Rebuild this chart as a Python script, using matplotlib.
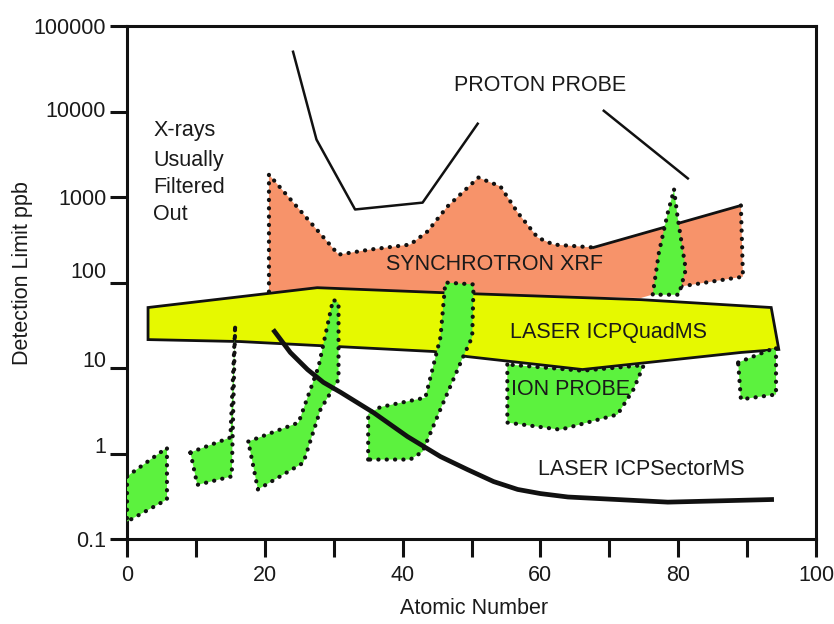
import matplotlib
matplotlib.use("Agg")
import matplotlib.pyplot as plt
from matplotlib.transforms import ScaledTranslation

plt.rcParams['font.family'] = ['Liberation Sans', 'DejaVu Sans']

# ---- data (atomic number, detection limit in ppb) ----
proton_a_x = [24.1, 27.5, 33.1, 42.9, 50.9]
proton_a_y = [50000, 4700, 715, 860, 7200]
proton_b_x = [69.2, 81.4]
proton_b_y = [10200, 1650]

synch_x = [20.6, 20.6, 30.7, 35.3, 41.1, 43.6, 46.5, 51.0, 54.2, 56.7, 59.6,
           61.9, 67.7, 89.1, 89.4, 80.4, 74.6, 50.0, 27.6]
synch_y = [78, 1830, 212, 243, 278, 395, 774, 1690, 1330, 659, 336,
           278, 257, 796, 117, 90, 66, 70, 80]

quad_x = [3.05, 27.6, 45.9, 74.6, 93.5, 94.6, 89.1, 66.1, 49.4, 44.5, 16.4, 3.05]
quad_y = [51, 87, 76, 63, 51, 16.5, 15.2, 9.6, 13.6, 15.6, 20.4, 21.5]

sector_x = [21.2, 23.7, 26.2, 28.5, 31.0, 35.8, 40.7, 45.5, 49.4, 53.2, 56.7,
            60.0, 64.0, 78.5, 93.9]
sector_y = [28.2, 15.2, 9.6, 6.8, 5.2, 3.0, 1.58, 0.92, 0.65, 0.47, 0.38,
            0.34, 0.31, 0.27, 0.29]

ion_a_x = [0.0, 5.8, 5.8, 0.0]
ion_a_y = [0.54, 1.17, 0.29, 0.16]
ion_b_x = [9.2, 15.0, 15.7, 15.2, 10.2]
ion_b_y = [1.03, 1.54, 32, 0.54, 0.43]
ion_c_x = [17.6, 24.9, 27.8, 29.9, 30.7, 30.7, 28.1, 25.6, 19.0]
ion_c_y = [1.38, 2.3, 10.4, 63, 58, 7.3, 3.3, 0.78, 0.38]
ion_d_x = [35.0, 35.0, 36.8, 43.3, 45.5, 46.2, 50.3, 50.1, 48.8, 45.5, 42.9, 41.1]
ion_d_y = [0.85, 2.9, 3.5, 4.5, 23, 100, 95, 23, 13.6, 3.3, 1.05, 0.85]
ion_e_x = [55.2, 55.2, 62.9, 71.2, 73.5, 75.0, 66.1]
ion_e_y = [11.0, 2.3, 1.9, 2.86, 5.6, 10.8, 9.3]
ion_f_x = [79.4, 79.9, 81.1, 80.1, 76.3, 77.2, 78.5]
ion_f_y = [1220, 592, 142, 72, 72, 224, 659]
ion_g_x = [88.7, 94.2, 94.2, 89.1]
ion_g_y = [11.6, 17.4, 4.9, 4.3]

xticks = [0, 20, 40, 60, 80, 100]
xminor = [10, 30, 50, 70, 90]
yticks = [0.1, 1, 10, 100, 1000, 10000, 100000]
ytick_labels = ['0.1', '1', '10', '100', '1000', '10000', '100000']

SALMON = '#f7936a'
YELLOW = '#e6f900'
GREEN = '#5cf23e'
INK = '#111111'
TXT = '#1a1a1a'
FS = 15.5

fig = plt.figure(figsize=(8.34, 6.24), dpi=100)
ax = fig.add_axes([0.1523, 0.1362, 0.8261, 0.8221])
ax.set_yscale('log')
ax.set_xlim(0, 100)
ax.set_ylim(0.1, 100000)

dot = dict(color=INK, lw=3.0, linestyle=(0, (0.05, 1.95)),
           dash_capstyle='round', solid_capstyle='round')

# synchrotron XRF region
ax.fill(synch_x, synch_y, color=SALMON, lw=0, zorder=1)
ax.plot(synch_x[:13], synch_y[:13], zorder=1.5, **dot)
ax.plot(synch_x[12:14], synch_y[12:14], color=INK, lw=2.0, zorder=1.5)
ax.plot(synch_x[13:16] + [76.8], synch_y[13:16] + [80], zorder=1.5, **dot)


def ion_patch(xs, ys, z):
    ax.fill(xs, ys, color=GREEN, lw=0, zorder=z)
    ax.plot(list(xs) + [xs[0]], list(ys) + [ys[0]], zorder=z + 0.1, **dot)


# ion probe region lying under the quadrupole band
ion_patch(ion_e_x, ion_e_y, 2)

# laser ICP quadrupole MS band
ax.fill(quad_x, quad_y, facecolor=YELLOW, edgecolor=INK, lw=2.0, zorder=3)

for xs, ys in [(ion_a_x, ion_a_y), (ion_b_x, ion_b_y), (ion_c_x, ion_c_y),
               (ion_d_x, ion_d_y), (ion_f_x, ion_f_y), (ion_g_x, ion_g_y)]:
    ion_patch(xs, ys, 4)

# laser ICP sector-field MS curve
ax.plot(sector_x, sector_y, color=INK, lw=3.4, zorder=5, solid_capstyle='butt',
        solid_joinstyle='round')

# proton probe limits
ax.plot(proton_a_x, proton_a_y, color=INK, lw=1.8, zorder=5)
ax.plot(proton_b_x, proton_b_y, color=INK, lw=1.8, zorder=5)

# annotations
txt = dict(fontsize=FS, color=TXT, zorder=6)
for label, yy in [('X-rays', 6000), ('Usually', 2700), ('Filtered', 1290), ('Out', 630)]:
    ax.text(3.8, yy, label, ha='left', va='center', **txt)
ax.text(60.0, 20100, 'PROTON PROBE', ha='center', va='center', **txt)
ax.text(53.3, 162, 'SYNCHROTRON XRF', ha='center', va='center', **txt)
ax.text(69.9, 26, 'LASER ICPQuadMS', ha='center', va='center', **txt)
ax.text(64.4, 5.6, 'ION PROBE', ha='center', va='center', **txt)
ax.text(74.7, 0.65, 'LASER ICPSectorMS', ha='center', va='center', **txt)

# axes styling
for sp in ax.spines.values():
    sp.set_linewidth(2.2)
    sp.set_color(INK)
ax.set_xticks(xticks)
ax.set_xticks(xminor, minor=True)
ax.set_xticklabels([str(v) for v in xticks])
ax.set_yticks(yticks)
ax.set_yticklabels(ytick_labels)
ax.yaxis.set_minor_locator(matplotlib.ticker.NullLocator())
ax.tick_params(axis='both', which='both', direction='out', width=2.2,
               color=INK, labelsize=FS, labelcolor=TXT)
ax.tick_params(axis='x', which='both', length=13, pad=6)
ax.tick_params(axis='y', which='both', length=12, pad=3)
ax.tick_params(top=False, right=False)

# small vertical offsets of some y tick labels (pixels)
y_shift = {'10000': 3, '100': 13, '10': 9, '1': 9}
fig.canvas.draw()
for lab in ax.get_yticklabels():
    dy = y_shift.get(lab.get_text(), 0)
    if dy:
        lab.set_transform(lab.get_transform() + ScaledTranslation(0, dy / 100, fig.dpi_scale_trans))

fig.text(474 / 834, 1 - 608 / 624, 'Atomic Number', fontsize=FS, color=TXT,
         ha='center', va='center')
fig.text(23 / 834, 1 - 273 / 624, 'Detection Limit ppb', fontsize=FS, color=TXT,
         ha='center', va='center', rotation=90)

fig.savefig('out.png', dpi=100)
